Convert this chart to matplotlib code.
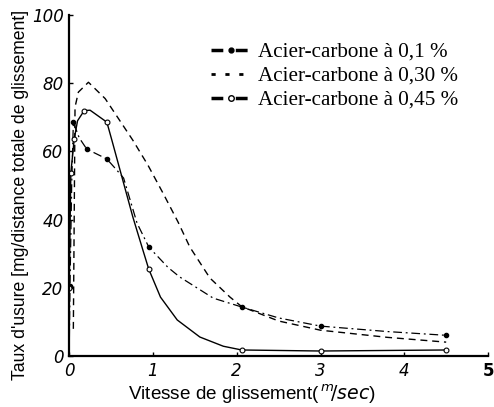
import matplotlib
matplotlib.use("Agg")
import matplotlib.pyplot as plt
from matplotlib.lines import Line2D

# Series 1: Acier-carbone à 0,1 %  (dash-dot, filled dots)
s1_x = [0.0, 0.01, 0.03, 0.05, 0.12, 0.21, 0.45, 0.57, 0.65, 0.81, 0.95, 1.18, 1.32, 1.72, 2.06, 2.5, 3.0, 3.8, 4.5]
s1_y = [0.0, 20.5, 50.0, 68.6, 64.0, 60.7, 57.8, 54.5, 52.2, 39.0, 32.0, 26.0, 23.2, 17.0, 14.4, 11.2, 8.8, 7.2, 6.1]
s1_mx = [0.01, 0.05, 0.21, 0.45, 0.95, 2.06, 3.0, 4.5]
s1_my = [20.5, 68.6, 60.7, 57.8, 32.0, 14.4, 8.8, 6.1]

# Series 2: Acier-carbone à 0,30 %  (dashed)
s2_x = [0.05, 0.06, 0.07, 0.11, 0.23, 0.43, 0.76, 0.94, 1.12, 1.3, 1.44, 1.68, 1.92, 2.06, 2.5, 3.0, 3.8, 4.5]
s2_y = [8.0, 40.0, 73.0, 77.4, 80.3, 75.5, 63.3, 56.0, 47.8, 39.3, 32.0, 22.9, 17.3, 14.5, 10.3, 7.6, 5.5, 4.1]

# Series 3: Acier-carbone à 0,45 %  (solid, open circles)
s3_x = [0.0, 0.0, 0.02, 0.06, 0.1, 0.18, 0.25, 0.45, 0.51, 0.63, 0.76, 0.88, 0.95, 1.09, 1.29, 1.56, 1.84, 2.06, 3.0, 4.5]
s3_y = [0.0, 20.0, 53.7, 63.6, 69.0, 72.0, 72.1, 68.6, 63.3, 52.5, 40.8, 31.1, 25.5, 17.3, 10.6, 5.6, 2.9, 1.8, 1.5, 1.8]
s3_mx = [0.0, 0.02, 0.06, 0.18, 0.45, 0.95, 2.06, 3.0, 4.5]
s3_my = [20.0, 53.7, 63.6, 72.0, 68.6, 25.5, 1.8, 1.5, 1.8]

labels = ["Acier-carbone à 0,1 %", "Acier-carbone à 0,30 %", "Acier-carbone à 0,45 %"]
x_ticks = [0, 1, 2, 3, 4, 5]
y_ticks = [0, 20, 40, 60, 80, 100]

fig = plt.figure(figsize=(4.94, 4.07), dpi=100)
ax = fig.add_axes([0.14, 0.125, 0.848, 0.838])

ax.plot(s1_x, s1_y, color="black", lw=0.9, dashes=(7, 3, 1.5, 3))
ax.plot(s1_mx, s1_my, ls="none", marker="o", ms=3, color="black")
ax.plot(s2_x, s2_y, color="black", lw=1.0, dashes=(5, 3.5))
ax.plot(s3_x, s3_y, color="black", lw=1.0)
ax.plot(s3_mx, s3_my, ls="none", marker="o", ms=3.5, mfc="white", mec="black", mew=0.8)

ax.set_xlim(0, 5)
ax.set_ylim(0, 100)
for s in ["top", "right"]:
    ax.spines[s].set_visible(False)
for s in ["left", "bottom"]:
    ax.spines[s].set_linewidth(1.6)
ax.set_xticks(x_ticks)
ax.set_yticks(y_ticks)
ax.set_xticklabels([str(t) for t in x_ticks], fontstyle="italic", fontsize=12, family="DejaVu Sans")
ax.set_yticklabels([str(t) for t in y_ticks], fontstyle="italic", fontsize=12, family="DejaVu Sans")
ax.get_xticklabels()[-1].set_fontweight("bold")
ax.get_xticklabels()[-1].set_fontstyle("normal")
ax.tick_params(direction="in", length=3, width=1, pad=4)

fig.text(0.041, 0.52, "Taux d'usure [mg/distance totale de glissement]", rotation=90,
         ha="center", va="center", fontsize=12.7, family="Liberation Sans")
fig.text(0.51, 0.03, r"Vitesse de glissement($^{\,m}\!/\mathit{sec}$)", ha="center", va="center",
         fontsize=13.6, family="Liberation Sans")

handles = [
    Line2D([], [], color="black", lw=2.5, dashes=(3.4, 3.6), marker="o", ms=3.5),
    Line2D([], [], color="black", lw=2.0, dashes=(1.5, 3.5)),
    Line2D([], [], color="black", lw=2.5, dashes=(3.4, 3.6), marker="o", ms=4, mfc="white", mew=1),
]
ax.legend(handles, labels, loc="upper left", bbox_to_anchor=(0.294, 0.976), frameon=False,
          prop={"family": "Liberation Serif", "size": 15.2}, handlelength=1.9,
          numpoints=1, labelspacing=0.2, handletextpad=0.3)

fig.savefig("out.png", dpi=100)
